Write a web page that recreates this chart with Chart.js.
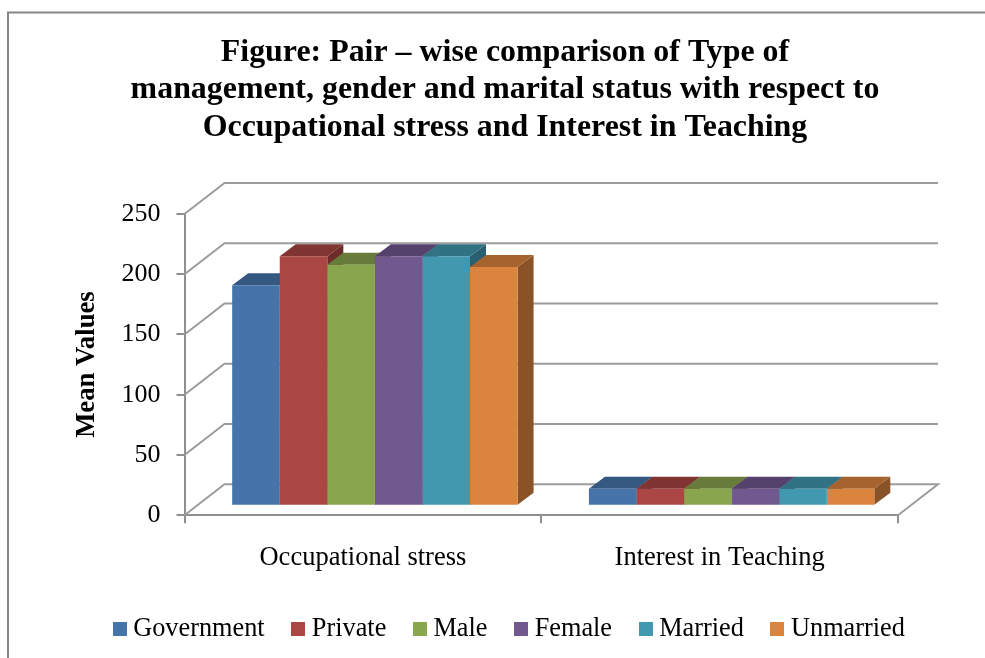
<!DOCTYPE html>
<html>
<head>
<meta charset="utf-8">
<style>html,body{margin:0;padding:0;background:#fff;overflow:hidden}canvas{display:block}</style>
<script src="https://cdn.jsdelivr.net/npm/chart.js@4"></script>
</head>
<body>
<canvas id="c" width="985" height="658"></canvas>
<script>
const titleLines = ["Figure: Pair \u2013 wise comparison of Type of", "management, gender and marital status with respect to", "Occupational stress and Interest in Teaching"];
const yAxisTitle = "Mean Values";
const categories = ["Occupational stress", "Interest in Teaching"];
const seriesNames = ["Government", "Private", "Male", "Female", "Married", "Unmarried"];
const government = [183, 14];
const privateMgmt = [207, 14];
const male = [200, 14];
const female = [207, 14];
const married = [207, 14];
const unmarried = [198, 14];
const seriesValues = [government, privateMgmt, male, female, married, unmarried];
const frontColors = ["#4674aa", "#aa4643", "#89a54e", "#71588f", "#4198af", "#db843d"];
const topColors   = ["#355880", "#803533", "#677c3b", "#55426c", "#317284", "#a5642e"];
const sideColors  = ["#2c4a6c", "#6b2c2a", "#566832", "#47375a", "#295f6e", "#8a5327"];

const FONT = "'Liberation Serif', 'Times New Roman', serif";
const GRID = "#8f8f8f", WALL = "#9c9c9c";
const WALL_DX = 40, WALL_DY = -31;
const BAR_DX = 12, BAR_DY = -9.5, TOP_DX = 16, TOP_DY = -12;
const LEGEND_SHIFT = 7;

function swatch(color) {
  const s = document.createElement("canvas");
  s.width = 14; s.height = 14;
  const g = s.getContext("2d");
  g.fillStyle = color; g.fillRect(0, 0, 14, 14);
  return s;
}

const frame3d = {
  id: "frame3d",
  afterLayout(chart) {
    chart.legend.left += LEGEND_SHIFT;
    chart.legend.right += LEGEND_SHIFT;
  },
  beforeDraw(chart) {
    const c = chart.ctx;
    c.save();
    c.strokeStyle = "#868686"; c.lineWidth = 2;
    c.beginPath(); c.moveTo(8, 658); c.lineTo(8, 12.5); c.lineTo(985, 12.5); c.stroke();
    c.restore();
  },
  beforeDatasetsDraw(chart) {
    const c = chart.ctx, y = chart.scales.y, a = chart.chartArea;
    c.save();
    c.strokeStyle = WALL; c.lineWidth = 2;
    y.ticks.forEach(t => {
      const p = y.getPixelForValue(t.value);
      c.beginPath();
      c.moveTo(a.left, p);
      c.lineTo(a.left + WALL_DX, p + WALL_DY);
      c.lineTo(a.right + WALL_DX, p + WALL_DY);
      if (t.value === 0) c.lineTo(a.right, p);
      c.stroke();
    });
    // depth faces of the bars, left to right
    c.translate(BAR_DX, BAR_DY);
    const n = chart.data.labels.length;
    for (let j = 0; j < n; j++) {
      chart.data.datasets.forEach((ds, i) => {
        const b = chart.getDatasetMeta(i).data[j];
        const l = b.x - b.width / 2, r = b.x + b.width / 2, t = b.y, bt = b.base;
        c.fillStyle = sideColors[i];
        c.beginPath();
        c.moveTo(r, t); c.lineTo(r + TOP_DX, t + TOP_DY); c.lineTo(r + TOP_DX, bt + TOP_DY); c.lineTo(r, bt);
        c.closePath(); c.fill();
        c.fillStyle = topColors[i];
        c.beginPath();
        c.moveTo(l, t); c.lineTo(l + TOP_DX, t + TOP_DY); c.lineTo(r + TOP_DX, t + TOP_DY); c.lineTo(r, t);
        c.closePath(); c.fill();
      });
    }
    // front faces are drawn by the library in this shifted plane
  },
  afterDatasetsDraw(chart) { chart.ctx.restore(); }
};

new Chart(document.getElementById("c"), {
  type: "bar",
  data: {
    labels: categories,
    datasets: seriesNames.map((name, i) => ({
      label: name,
      data: seriesValues[i],
      backgroundColor: frontColors[i],
      borderWidth: 0,
      categoryPercentage: 0.8,
      barPercentage: 1
    }))
  },
  options: {
    responsive: false,
    animation: false,
    layout: { padding: { left: 25, right: 0, top: 34, bottom: 6 } },
    plugins: {
      tooltip: { enabled: false },
      title: {
        display: true,
        text: titleLines,
        color: "#000",
        font: { family: FONT, size: 31.9, weight: "bold", lineHeight: 1.175 },
        padding: { top: 0, bottom: 67.5 }
      },
      legend: {
        position: "bottom",
        onClick: null,
        labels: {
          color: "#000",
          font: { family: FONT, size: 26.3 },
          padding: 33,
          usePointStyle: true,
          pointStyleWidth: 1,
          generateLabels: chart => chart.data.datasets.map((d, i) => ({
            text: d.label, fillStyle: d.backgroundColor, strokeStyle: d.backgroundColor,
            lineWidth: 0, hidden: false, datasetIndex: i, fontColor: "#000",
            pointStyle: swatch(d.backgroundColor)
          }))
        }
      }
    },
    scales: {
      x: {
        type: "category",
        grid: { offset: true, drawOnChartArea: false, drawTicks: true, tickLength: 8, color: GRID, lineWidth: 2 },
        border: { color: GRID, width: 2 },
        ticks: { color: "#000", font: { family: FONT, size: 26.5 }, padding: 19, maxRotation: 0, autoSkip: false },
        afterFit(s) { s.height = 67.5; }
      },
      y: {
        min: 0, max: 250,
        ticks: { stepSize: 50, color: "#000", font: { family: FONT, size: 26 }, padding: 16 },
        grid: { drawOnChartArea: false, drawTicks: true, tickLength: 8, color: GRID, lineWidth: 2 },
        border: { color: GRID, width: 2 },
        title: { display: true, text: yAxisTitle, color: "#000", font: { family: FONT, size: 26.7, weight: "bold" }, padding: { top: 46, bottom: 0 } },
        afterFit(s) { s.width = 184.5 - 25; }
      },
      edge: {
        position: "right",
        display: true,
        grid: { display: false },
        border: { display: false },
        ticks: { display: false },
        afterFit(s) { s.width = 985 - 898; }
      }
    }
  },
  plugins: [frame3d]
});
</script>
</body>
</html>
